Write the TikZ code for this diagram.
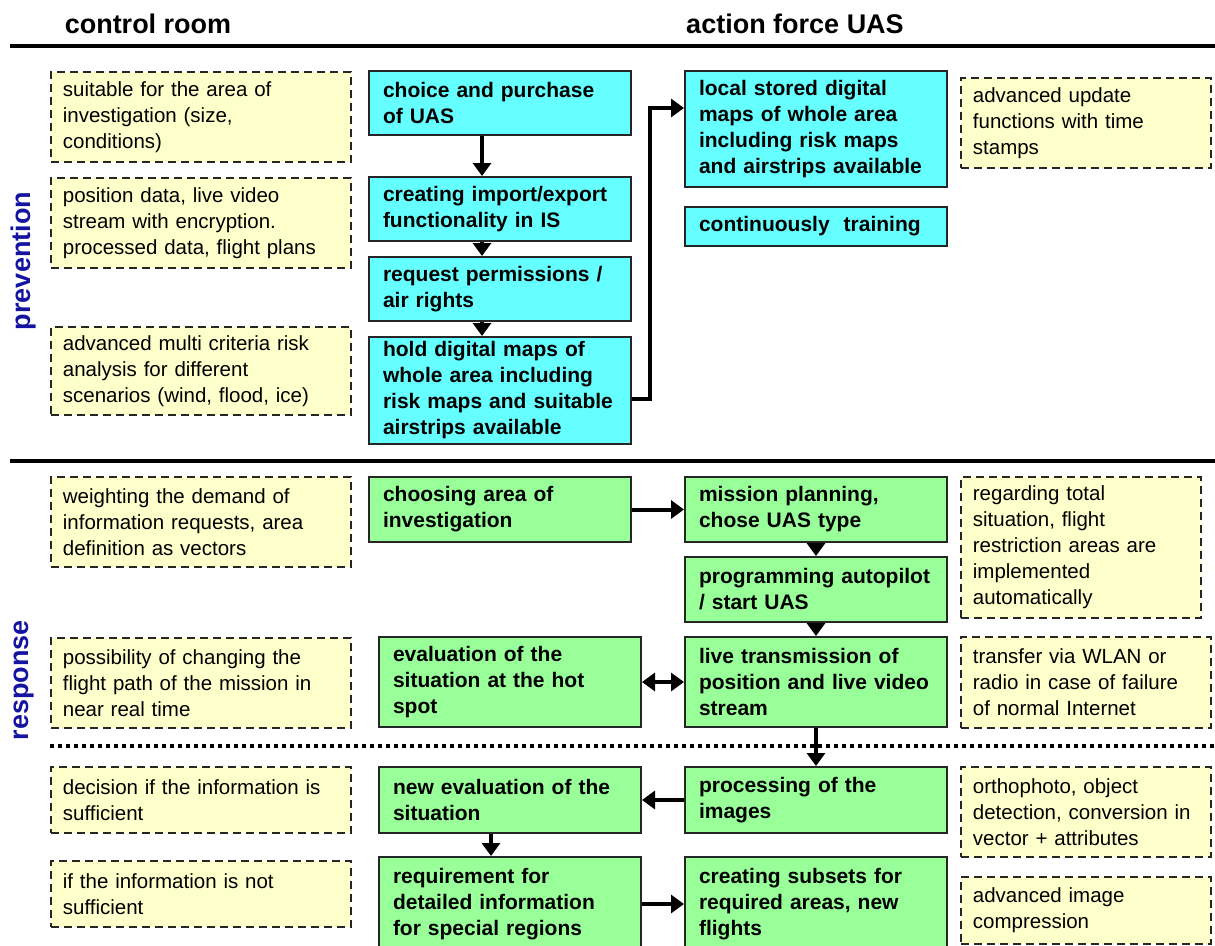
\documentclass[tikz,border=0pt]{standalone}
\usepackage{fontspec}
\setmainfont{Liberation Sans}
\usetikzlibrary{arrows.meta}
\definecolor{prevcyan}{RGB}{102,255,255}
\definecolor{respgreen}{RGB}{153,255,153}
\definecolor{noteyellow}{RGB}{255,255,204}
\definecolor{phaseblue}{RGB}{20,20,160}
\begin{document}
\begin{tikzpicture}[x=1pt,y=-1pt,
  base/.style={draw, rectangle, anchor=north west, align=left, inner ysep=2pt},
  act/.style={base, inner xsep=14pt, line width=2pt, draw=black!85,
    font=\fontsize{21}{26}\selectfont\bfseries},
  prev/.style={act, fill=prevcyan},
  resp/.style={act, fill=respgreen},
  note/.style={base, inner xsep=12pt, dash pattern=on 8pt off 5pt, line width=1.8pt,
    draw=black!85, fill=noteyellow, font=\fontsize{20.5}{26}\selectfont},
  wbox/.style={minimum width=262pt, text width=234pt},
  wleft/.style={minimum width=300pt, text width=276pt},
  wright/.style={minimum width=250pt, text width=226pt},
  head/.style={anchor=base, font=\fontsize{27}{30}\selectfont\bfseries},
  phase/.style={rotate=90, text=phaseblue, font=\fontsize{27}{30}\selectfont\bfseries},
  arr/.style={line width=4pt, -{Triangle[length=13pt,width=18pt]}},
  arrboth/.style={line width=4pt, {Triangle[length=13pt,width=18pt]}-{Triangle[length=13pt,width=18pt]}},
  rule/.style={line width=4pt},
  dotsep/.style={line width=4pt, dash pattern=on 4pt off 4pt}]
\useasboundingbox (0,0) rectangle (1215,945);
% column heads and phase separators
\node[head] (room) at (148,33) {control room};
\node[head] (force) at (795,33) {action force UAS};
\draw[rule] (10,46) -- (1215,46);
\draw[rule] (10,461) -- (1215,461);
\draw[dotsep] (50,746) -- (1215,746);
\node[phase] (prevlbl) at (24,261) {prevention};
\node[phase] (resplbl) at (24,680) {response};
% prevention
\node[note, wleft, minimum height=90pt] (n1) at (50,71) {suitable for the area of\\investigation (size,\\conditions)};
\node[note, wleft, minimum height=90pt] (n2) at (50,177) {position data, live video\\stream with encryption.\\processed data, flight plans};
\node[note, wleft, minimum height=88pt] (n3) at (50,326) {advanced multi criteria risk\\analysis for different\\scenarios (wind, flood, ice)};
\node[prev, wbox, minimum height=64pt] (choice) at (368,70) {choice and purchase\\of UAS};
\node[prev, wbox, minimum height=64pt] (import) at (368,176) {creating import/export\\functionality in IS};
\node[prev, wbox, minimum height=64pt] (permit) at (368,256) {request permissions /\\air rights};
\node[prev, wbox, minimum height=107pt] (hold) at (368,336) {hold digital maps of\\whole area including\\risk maps and suitable\\airstrips available};
\node[prev, wbox, minimum height=116pt] (local) at (684,70) {local stored digital\\maps of whole area\\including risk maps\\and airstrips available};
\node[prev, wbox, minimum height=39pt] (train) at (684,206) {continuously\ \ training};
\node[note, wright, minimum height=90pt] (n4) at (960,77) {advanced update\\functions with time\\stamps};
\draw[arr] ([xshift=-18pt]choice.south) -- ([xshift=-18pt]import.north);
\draw[arr] ([xshift=-18pt]import.south) -- ([xshift=-18pt]permit.north);
\draw[arr] ([xshift=-18pt]permit.south) -- ([xshift=-18pt]hold.north);
\draw[arr] ([yshift=-8pt]hold.east) -- ++(18,0) |- ([yshift=21pt]local.west);
% response
\node[note, wleft, minimum height=90pt] (n5) at (50,476) {weighting the demand of\\information requests, area\\definition as vectors};
\node[note, wleft, minimum height=90pt] (n6) at (50,637) {possibility of changing the\\flight path of the mission in\\near real time};
\node[note, wleft, minimum height=66pt] (n7) at (50,766) {decision if the information is\\sufficient};
\node[note, wleft, minimum height=66pt] (n8) at (50,860) {if the information is not\\sufficient};
\node[resp, wbox, minimum height=65pt] (area) at (368,476) {choosing area of\\investigation};
\node[resp, wbox, minimum height=65pt] (mission) at (684,476) {mission planning,\\chose UAS type};
\node[resp, wbox, minimum height=65pt] (autopilot) at (684,556) {programming autopilot\\/ start UAS};
\node[resp, wbox, minimum height=90pt] (hotspot) at (378,636) {evaluation of the\\situation at the hot\\spot};
\node[resp, wbox, minimum height=90pt] (live) at (684,636) {live transmission of\\position and live video\\stream};
\node[resp, wbox, minimum height=66pt] (neweval) at (378,766) {new evaluation of the\\situation};
\node[resp, wbox, minimum height=66pt] (images) at (684,766) {processing of the\\images};
\node[resp, wbox, minimum height=94pt] (require) at (378,856) {requirement for\\detailed information\\for special regions};
\node[resp, wbox, minimum height=94pt] (subsets) at (684,856) {creating subsets for\\required areas, new\\flights};
\node[note, minimum width=240pt, text width=216pt, minimum height=141pt] (n9) at (960,476) {regarding total\\situation, flight\\restriction areas are\\implemented\\automatically};
\node[note, wright, minimum height=91pt] (n10) at (960,636) {transfer via WLAN or\\radio in case of failure\\of normal Internet};
\node[note, wright, minimum height=90pt] (n11) at (960,766) {orthophoto, object\\detection, conversion in\\vector + attributes};
\node[note, wright, minimum height=67pt] (n12) at (960,876) {advanced image\\compression};
\draw[arr] (area) -- (mission);
\draw[arr] (mission) -- (autopilot);
\draw[arr] (autopilot) -- (live);
\draw[arrboth] (hotspot) -- (live);
\draw[arr] (live) -- (images);
\draw[arr] (images) -- (neweval);
\draw[arr] ([xshift=-19pt]neweval.south) -- ([xshift=-19pt]require.north);
\draw[arr] (require) -- (subsets);
\end{tikzpicture}
\end{document}
